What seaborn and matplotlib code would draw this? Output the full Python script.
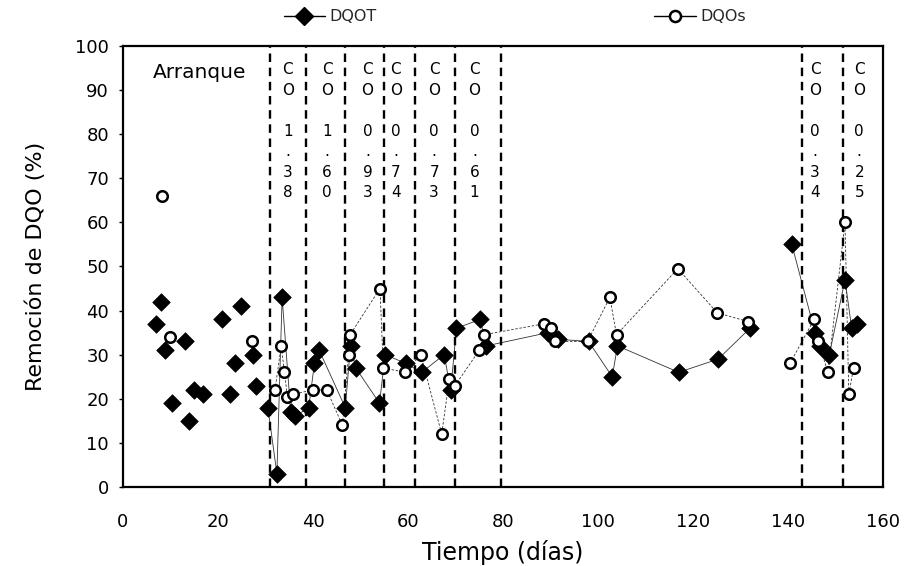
import numpy as np
import pandas as pd
import seaborn as sns
import matplotlib
matplotlib.use("Agg")
import matplotlib.pyplot as plt
from matplotlib.lines import Line2D

# Remoción de DQO total (DQOT) y soluble (DQOs), % por día de operación
dias_dqot = [6.9, 8.0, 8.8, 10.3, 13.1, 13.9, 14.9, 16.8, 20.8, 22.5, 23.6, 24.8,
             27.3, 28.0, 30.5, 32.4, 33.5, 35.3, 36.2, 39.1, 40.3, 41.3, 46.8,
             47.9, 49.0, 54.0, 55.2, 59.6, 62.9, 67.6, 69.0, 70.2, 75.2, 76.5,
             89.5, 91.5, 98.0, 103.0, 104.1, 117.0, 125.3, 132.0, 140.8, 145.7,
             146.7, 148.7, 152.0, 153.4, 154.6]
dqot = [37, 42, 31, 19, 33, 15, 22, 21, 38, 21, 28, 41,
        30, 23, 18, 3, 43, 17, 16, 18, 28, 31, 18,
        32, 27, 19, 30, 28, 26, 30, 22, 36, 38, 32,
        35, 33.5, 33, 25, 32, 26, 29, 36, 55, 35,
        32, 30, 47, 36, 37]

dias_dqos = [8.2, 9.9, 27.1, 32.0, 33.3, 34.0, 34.6, 35.8, 39.9, 42.9, 46.2,
             47.5, 47.8, 54.1, 54.8, 59.4, 62.7, 67.1, 68.7, 69.9, 75.0, 75.9,
             88.6, 90.2, 90.9, 97.8, 102.5, 103.9, 116.8, 125.1, 131.6, 140.4,
             145.5, 146.4, 148.4, 152.0, 152.8, 153.8]
dqos = [66, 34, 33, 22, 32, 26, 20.5, 21, 22, 22, 14,
        30, 34.5, 45, 27, 26, 30, 12, 24.5, 23, 31, 34.5,
        37, 36, 33, 33, 43, 34.5, 49.5, 39.5, 37.5, 28,
        38, 33, 26, 60, 21, 27]

# Cambios de carga orgánica (días) y carga de cada etapa
cambios = [31, 38.5, 46.8, 55, 61.5, 69.8, 79.5, 143, 151.5]
cargas = ["1.38", "1.60", "0.93", "0.74", "0.73", "0.61", "0.34", "0.25"]
x_cargas = [34.7, 43.0, 51.5, 57.4, 65.5, 74.0, 145.7, 155.0]

# Tramos unidos por líneas: arranque (sin línea), etapas hasta 132 d, etapas finales
limites_tramos = [30, 136]


def tabla(dias, valores):
    df = pd.DataFrame({"dia": dias, "valor": valores})
    df["tramo"] = np.digitize(df["dia"], limites_tramos)
    return df


df_t = tabla(dias_dqot, dqot)
df_s = tabla(dias_dqos, dqos)

sns.set_theme(style="white")
plt.rcParams["font.family"] = ["DejaVu Sans"]

fig = plt.figure(figsize=(9.05, 5.66), dpi=100)
ax = fig.add_axes([0.1359, 0.1396, 0.8398, 0.7792])

# Líneas de unión (finas)
sns.lineplot(data=df_t[df_t["tramo"] > 0], x="dia", y="valor", units="tramo",
             estimator=None, color="#333333", lw=0.6, ax=ax, zorder=2)
sns.lineplot(data=df_s[df_s["tramo"] > 0], x="dia", y="valor", units="tramo",
             estimator=None, color="#333333", lw=0.6, ax=ax, zorder=2,
             dashes=False, linestyle=(0, (3, 2)))

# Cambios de carga
for c in cambios:
    ax.axvline(c, color="black", lw=1.7, dashes=(3.6, 2.4), zorder=3)

# Puntos
sns.scatterplot(data=df_t, x="dia", y="valor", marker="D", s=80, color="black",
                edgecolor="black", linewidth=0.5, ax=ax, zorder=4)
sns.scatterplot(data=df_s, x="dia", y="valor", marker="o", s=58, color="white",
                edgecolor="black", linewidth=1.8, ax=ax, zorder=5)

# Etiquetas verticales de carga
paso = 4.65
for xc, carga in zip(x_cargas, cargas):
    filas = ["C", "O", ""] + list(carga)
    for i, ch in enumerate(filas):
        if ch:
            ax.text(xc, 94.6 - i * paso, ch, ha="center", va="center",
                    fontsize=11, color="black", zorder=6)

ax.text(6.3, 93.9, "Arranque", ha="left", va="center", fontsize=14.5,
        color="black", zorder=6)

ax.set_xlim(0, 160)
ax.set_ylim(0, 100)
ax.set_xticks(np.arange(0, 161, 20))
ax.set_yticks(np.arange(0, 101, 10))
ax.tick_params(axis="x", length=0, pad=19, labelsize=13, colors="black")
ax.tick_params(axis="y", length=3, width=1, pad=7, labelsize=13, colors="black",
               direction="out", left=True)
for sp in ax.spines.values():
    sp.set_visible(True)
    sp.set_color("black")
    sp.set_linewidth(1.6)

ax.set_xlabel("Tiempo (días)", fontsize=17, color="black")
ax.set_ylabel("Remoción de DQO (%)", fontsize=16, color="black")
ax.xaxis.set_label_coords(0.5, -0.12)
ax.yaxis.set_label_coords(-0.101, 0.5)

h_t = Line2D([], [], color="black", lw=1, marker="D", markersize=9)
h_s = Line2D([], [], color="black", lw=1, marker="o", markersize=8,
             markerfacecolor="white", markeredgewidth=1.8)
fig.legend([h_t], ["DQOT"], loc="center", bbox_to_anchor=(0.365, 0.97),
           frameon=False, fontsize=11.5, handlelength=2.6, handletextpad=0.3)
fig.legend([h_s], ["DQOs"], loc="center", bbox_to_anchor=(0.774, 0.97),
           frameon=False, fontsize=11.5, handlelength=2.6, handletextpad=0.3)

fig.savefig("out.png", dpi=100, facecolor="white")
